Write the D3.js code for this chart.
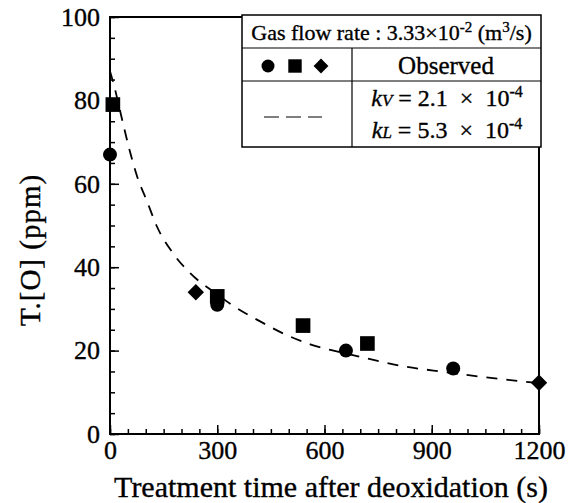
<!DOCTYPE html>
<html>
<head>
<meta charset="utf-8">
<script src="https://cdn.jsdelivr.net/npm/d3@7"></script>
<style>
  body { margin: 0; background: #fff; }
  svg text { font-family: "Liberation Serif", "DejaVu Serif", serif !important; fill: #000; stroke: #000; stroke-width: 0.35px; }
</style>
</head>
<body>
<div class="chart"></div>
<script>
// observed points
var circleData = [[0, 67], [300, 31], [660, 20], [960, 15.7]];
var squareData = [[8, 79], [300, 33], [540, 26], [720, 21.7]];
var diamondData = [[240, 34], [1200, 12.3]];

// model curve (kv = 2.1e-4, kL = 5.3e-4)
var curveTime = [0, 10, 35, 55, 75, 105, 130, 175, 225, 300, 340, 420, 500, 560, 640, 740, 830, 905, 1050, 1200];
var curveO    = [87, 84, 75, 68, 62, 55.5, 50, 43.5, 38.5, 33.5, 31, 27, 23.5, 21.5, 19.7, 17.7, 16.1, 15.2, 13.6, 12.2];

var xTicks = [0, 300, 600, 900, 1200];
var yTicks = [0, 20, 40, 60, 80, 100];

var W = 579, H = 503;
var margin = {top: 17, right: 40, bottom: 69, left: 110};

var svg = d3.select(".chart").append("svg")
  .attr("width", W)
  .attr("height", H);

var x = d3.scaleLinear().domain([0, 1200]).range([margin.left, W - margin.right]);
var y = d3.scaleLinear().domain([0, 100]).range([H - margin.bottom, margin.top]);

// minor ticks first
svg.append("g")
  .attr("transform", `translate(0, ${y(0)})`)
  .call(d3.axisBottom(x).tickValues(d3.range(0, 1201, 50)).tickSize(-5).tickFormat(""))
  .call(g => g.select(".domain").remove());

svg.append("g")
  .attr("transform", `translate(${x(0)}, 0)`)
  .call(d3.axisLeft(y).tickValues(d3.range(0, 101, 5)).tickSize(-5).tickFormat(""))
  .call(g => g.select(".domain").remove());

// major ticks with labels
var xAxis = svg.append("g")
  .attr("transform", `translate(0, ${y(0)})`)
  .call(d3.axisBottom(x).tickValues(xTicks).tickSize(-9).tickPadding(7).tickFormat(d3.format("d")));
xAxis.select(".domain").remove();
xAxis.selectAll("text").attr("font-size", 26);

var yAxis = svg.append("g")
  .attr("transform", `translate(${x(0)}, 0)`)
  .call(d3.axisLeft(y).tickValues(yTicks).tickSize(-9).tickPadding(10).tickFormat(d3.format("d")));
yAxis.select(".domain").remove();
yAxis.selectAll("text").attr("font-size", 26);

svg.selectAll(".tick line").attr("stroke", "#000").attr("stroke-width", 1.5);

// frame
svg.append("rect")
  .attr("x", x(0)).attr("y", y(100))
  .attr("width", x(1200) - x(0)).attr("height", y(0) - y(100))
  .attr("fill", "none").attr("stroke", "#000").attr("stroke-width", 2);

// axis titles
svg.append("text")
  .attr("x", 331).attr("y", 497)
  .attr("text-anchor", "middle")
  .attr("font-size", 30)
  .text("Treatment time after deoxidation (s)");

svg.append("text")
  .attr("transform", "translate(40, 250) rotate(-90)")
  .attr("text-anchor", "middle")
  .attr("font-size", 29)
  .attr("letter-spacing", 1)
  .text("T.[O] (ppm)");

// model curve
var line = d3.line()
  .x(d => x(d[0]))
  .y(d => y(d[1]))
  .curve(d3.curveMonotoneX);

svg.append("path")
  .datum(curveTime.map((t, i) => [t, curveO[i]]))
  .attr("d", line)
  .attr("fill", "none")
  .attr("stroke", "#000")
  .attr("stroke-width", 1.8)
  .attr("stroke-dasharray", "11,9");

// points
svg.selectAll("circle.obs")
  .data(circleData)
  .enter().append("circle")
  .attr("class", "obs")
  .attr("cx", d => x(d[0]))
  .attr("cy", d => y(d[1]))
  .attr("r", 7);

svg.selectAll("path.sq")
  .data(squareData)
  .enter().append("path")
  .attr("class", "sq")
  .attr("transform", d => `translate(${x(d[0])}, ${y(d[1])})`)
  .attr("d", d3.symbol().type(d3.symbolSquare).size(215));

svg.selectAll("path.dia")
  .data(diamondData)
  .enter().append("path")
  .attr("class", "dia")
  .attr("transform", d => `translate(${x(d[0])}, ${y(d[1])}) rotate(45)`)
  .attr("d", d3.symbol().type(d3.symbolSquare).size(135));

// legend table
var lg = svg.append("g");
var L = {x0: 242, x1: 541, xm: 352, y0: 15, y1: 48, y2: 81, y3: 147};

lg.append("rect")
  .attr("x", L.x0).attr("y", L.y0)
  .attr("width", L.x1 - L.x0).attr("height", L.y3 - L.y0)
  .attr("fill", "#fff").attr("stroke", "#000").attr("stroke-width", 1.5);
lg.append("line").attr("x1", L.x0).attr("x2", L.x1).attr("y1", L.y1).attr("y2", L.y1)
  .attr("stroke", "#000").attr("stroke-width", 1.2);
lg.append("line").attr("x1", L.x0).attr("x2", L.x1).attr("y1", L.y2).attr("y2", L.y2)
  .attr("stroke", "#000").attr("stroke-width", 1.2);
lg.append("line").attr("x1", L.xm).attr("x2", L.xm).attr("y1", L.y1).attr("y2", L.y3)
  .attr("stroke", "#000").attr("stroke-width", 1.2);

var t1 = lg.append("text")
  .attr("x", (L.x0 + L.x1) / 2).attr("y", 40)
  .attr("text-anchor", "middle")
  .attr("font-size", 22);
t1.append("tspan").text("Gas flow rate : 3.33\u00d710");
t1.append("tspan").attr("dy", -8).attr("font-size", 15).text("-2");
t1.append("tspan").attr("dy", 8).text(" (m");
t1.append("tspan").attr("dy", -8).attr("font-size", 15).text("3");
t1.append("tspan").attr("dy", 8).text("/s)");

lg.append("circle").attr("cx", 268).attr("cy", 66).attr("r", 6.5);
lg.append("path").attr("transform", "translate(295, 66)")
  .attr("d", d3.symbol().type(d3.symbolSquare).size(180));
lg.append("path").attr("transform", "translate(321, 66) rotate(45)")
  .attr("d", d3.symbol().type(d3.symbolSquare).size(110));

lg.append("text")
  .attr("x", 446).attr("y", 74)
  .attr("text-anchor", "middle")
  .attr("font-size", 25)
  .text("Observed");

lg.append("line")
  .attr("x1", 264).attr("x2", 322).attr("y1", 117).attr("y2", 117)
  .attr("stroke", "#000").attr("stroke-width", 1.2)
  .attr("stroke-dasharray", "15,7");

function kLine(yy, sub, val) {
  var t = lg.append("text").attr("x", 447).attr("y", yy).attr("text-anchor", "middle").attr("font-size", 24);
  t.append("tspan").attr("font-style", "italic").text("k");
  t.append("tspan").attr("font-style", "italic").attr("font-size", 17).text(sub);
  t.append("tspan").text(" = " + val + " \u00a0\u00d7\u00a0 10");
  t.append("tspan").attr("dy", -9).attr("font-size", 16).text("-4");
}
kLine(106, "V", "2.1");
kLine(138, "L", "5.3");
</script>
</body>
</html>
